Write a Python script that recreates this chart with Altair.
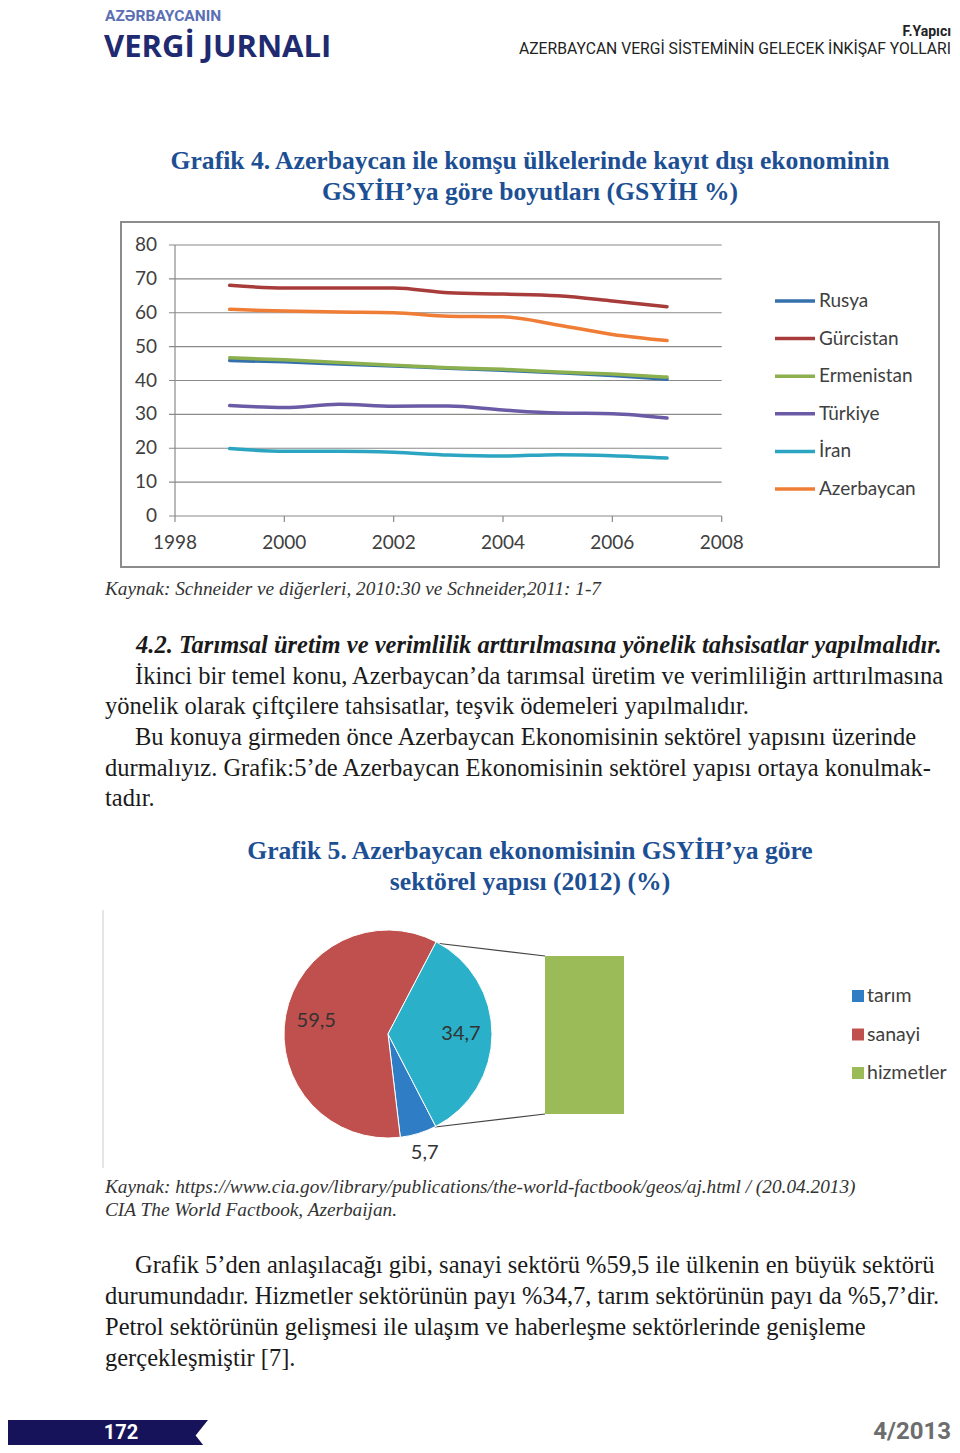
import math
import altair as alt
import pandas as pd

# ---------------- data ----------------
years = [1999, 2000, 2001, 2002, 2003, 2004, 2005, 2006, 2007]
countries = ["Rusya", "Gürcistan", "Ermenistan", "Türkiye", "İran", "Azerbaycan"]
rusya = [45.9, 45.5, 44.9, 44.3, 43.6, 43.0, 42.3, 41.5, 40.4]
gurcistan = [68.1, 67.3, 67.3, 67.3, 65.9, 65.5, 65.0, 63.5, 61.8]
ermenistan = [46.7, 46.1, 45.3, 44.5, 43.8, 43.3, 42.5, 41.9, 41.0]
turkiye = [32.6, 32.0, 33.0, 32.4, 32.5, 31.3, 30.4, 30.2, 28.9]
iran = [19.9, 19.1, 19.1, 18.8, 18.0, 17.7, 18.1, 17.8, 17.1]
azerbaycan = [61.0, 60.5, 60.2, 60.0, 59.0, 58.8, 56.4, 53.6, 51.8]
y_ticks = [0, 10, 20, 30, 40, 50, 60, 70, 80]
x_ticks = [1998, 2000, 2002, 2004, 2006, 2008]

sectors = ["tarım", "sanayi", "hizmetler"]
shares = [5.7, 59.5, 34.7]

country_colors = ["#3470AB", "#A83C3A", "#8DB04E", "#6B5BA6", "#2CA5C2", "#EF7D35"]
sector_colors = ["#2F7DC4", "#C0504D", "#9BBB59"]

series = [rusya, gurcistan, ermenistan, turkiye, iran, azerbaycan]
line_df = pd.DataFrame(
    [{"country": c, "year": y, "value": v}
     for c, vals in zip(countries, series) for y, v in zip(years, vals)]
)
pie_df = pd.DataFrame({"sektor": sectors, "pay": shares})

OX = 8  # page margin offset


def P(v):
    return v - OX


ONE = alt.Data(values=[{}])

TITLE_BLUE = "#1c4f93"
SERIF = "Liberation Serif, Times New Roman, serif"
NARROW = "Liberation Sans Narrow, Arial Narrow, Roboto, sans-serif"
CHARTF = "Lato, Carlito, Open Sans, sans-serif"
BODY = 24.5
CAP = 19.3
TITLE = 25.6


def txt(s, x, y, size, align="left", color="#1a1a1a", font=SERIF, weight="normal", style="normal"):
    return alt.Chart(ONE).mark_text(
        text=s, fontSize=size, align=align, baseline="middle", color=color,
        font=font, fontWeight=weight, fontStyle=style,
    ).encode(x=alt.value(P(x)), y=alt.value(P(y)))


layers = []

# ---------------- page header ----------------
layers += [
    txt("AZƏRBAYCANIN", 105, 16, 15.5, color="#5b6fb4", font=NARROW, weight="bold"),
    txt("VERGİ JURNALI", 104, 48, 31, color="#1f2a70", font="Open Sans, sans-serif", weight="bold"),
    txt("F.Yapıcı", 951, 32, 14, align="right", color="#222", font=NARROW, weight="bold"),
    txt("AZERBAYCAN VERGİ SİSTEMİNİN GELECEK İNKİŞAF YOLLARI", 951, 49, 15.7,
        align="right", color="#222", font=NARROW),
]

# ---------------- Grafik 4 title ----------------
layers += [
    txt("Grafik 4. Azerbaycan ile komşu ülkelerinde kayıt dışı ekonominin", 530, 161, TITLE,
        align="center", color=TITLE_BLUE, weight="bold"),
    txt("GSYİH’ya göre boyutları (GSYİH %)", 530, 192, TITLE,
        align="center", color=TITLE_BLUE, weight="bold"),
]

# ---------------- line chart ----------------
frame = alt.Chart(ONE).mark_rect(fillOpacity=0, stroke="#8c8c8c", strokeWidth=2).encode(
    x=alt.value(P(121)), x2=alt.value(P(939)), y=alt.value(P(222)), y2=alt.value(P(567))
)
layers.append(frame)

xs = alt.Scale(domain=[1998, 2008], range=[P(175), P(721.7)], nice=False, zero=False)
ys = alt.Scale(domain=[0, 80], range=[P(516), P(245)], nice=False)

grid = alt.Chart(pd.DataFrame({"v": y_ticks})).mark_rule(color="#8a8a8a", strokeWidth=1.2).encode(
    y=alt.Y("v:Q", scale=ys, axis=None), x=alt.value(P(169)), x2=alt.value(P(721.7))
)
yaxis = alt.Chart(ONE).mark_rule(color="#8a8a8a", strokeWidth=1.2).encode(
    x=alt.X(datum=1998, scale=xs, axis=None),
    y=alt.Y(datum=80, scale=ys, axis=None),
    y2=alt.Y2Datum(0),
)
xticks_m = alt.Chart(pd.DataFrame({"v": x_ticks})).mark_rule(color="#8a8a8a", strokeWidth=1.2).encode(
    x=alt.X("v:Q", scale=xs, axis=None), y=alt.value(P(516)), y2=alt.value(P(522))
)
ylabels = alt.Chart(pd.DataFrame({"v": y_ticks})).mark_text(
    align="right", baseline="middle", fontSize=19, font=CHARTF, color="#404040"
).encode(y=alt.Y("v:Q", scale=ys, axis=None), x=alt.value(P(157)), text="v:Q")
xlabels = alt.Chart(pd.DataFrame({"v": x_ticks})).mark_text(
    align="center", baseline="middle", fontSize=19, font=CHARTF, color="#404040"
).encode(x=alt.X("v:Q", scale=xs, axis=None), y=alt.value(P(543)), text="v:N")

cscale = alt.Scale(domain=countries, range=country_colors)
lines = alt.Chart(line_df).mark_line(strokeWidth=3.5, interpolate="monotone", strokeCap="round").encode(
    x=alt.X("year:Q", scale=xs, axis=None),
    y=alt.Y("value:Q", scale=ys, axis=None),
    color=alt.Color("country:N", scale=cscale, legend=None, sort=countries),
)
layers += [grid, yaxis, xticks_m, ylabels, xlabels, lines]

# legend (lines)
leg_base = alt.Chart(pd.DataFrame({"country": countries})).transform_window(i="row_number()")
leg_y = alt.Y("i:Q", scale=alt.Scale(domain=[1, 6], range=[P(301), P(489)], nice=False, zero=False), axis=None)
leg_lines = leg_base.mark_rule(strokeWidth=3.5).encode(
    x=alt.value(P(775)), x2=alt.value(P(815)), y=leg_y,
    color=alt.Color("country:N", scale=cscale, legend=None),
)
leg_text = leg_base.mark_text(align="left", baseline="middle", fontSize=19, font=CHARTF, color="#404040").encode(
    x=alt.value(P(819)), y=leg_y, text="country:N"
)
layers += [leg_lines, leg_text]

# ---------------- source + text ----------------
layers += [
    txt("Kaynak: Schneider ve diğerleri, 2010:30 ve Schneider,2011: 1-7", 105, 589, CAP, color="#333", style="italic"),
    txt("4.2. Tarımsal üretim ve verimlilik arttırılmasına yönelik tahsisatlar yapılmalıdır.", 136, 646, 24.5,
        weight="bold", style="italic"),
    txt("İkinci bir temel konu, Azerbaycan’da tarımsal üretim ve verimliliğin arttırılmasına", 135, 677, BODY),
    txt("yönelik olarak çiftçilere tahsisatlar, teşvik ödemeleri yapılmalıdır.", 105, 707, BODY),
    txt("Bu konuya girmeden önce Azerbaycan Ekonomisinin sektörel yapısını üzerinde", 135, 738, BODY),
    txt("durmalıyız. Grafik:5’de Azerbaycan Ekonomisinin sektörel yapısı ortaya konulmak-", 105, 769, BODY),
    txt("tadır.", 105, 799, BODY),
    txt("Grafik 5. Azerbaycan ekonomisinin GSYİH’ya göre", 530, 851, TITLE,
        align="center", color=TITLE_BLUE, weight="bold"),
    txt("sektörel yapısı (2012) (%)", 530, 882, TITLE, align="center", color=TITLE_BLUE, weight="bold"),
]

# ---------------- pie chart ----------------
box_l = alt.Chart(ONE).mark_rule(color="#dddddd", strokeWidth=1.5).encode(
    x=alt.value(P(103)), y=alt.value(P(910)), y2=alt.value(P(1168))
)
layers.append(box_l)

start = 0.482
total = sum(shares)
tscale = alt.Scale(domain=[0, total], range=[start, start + 2 * math.pi], nice=False, zero=False)
pie_base = alt.Chart(pie_df).transform_calculate(
    ord="indexof(['hizmetler','tarım','sanayi'], datum.sektor)",
    label="replace(format(datum.pay, '.1f'), '.', ',')",
    r="datum.pay < 10 ? 125 : 73",
)
sscale = alt.Scale(domain=sectors, range=sector_colors)
arcs = pie_base.mark_arc(radius=104, stroke="white", strokeWidth=1).encode(
    theta=alt.Theta("pay:Q", stack=True, scale=tscale),
    order=alt.Order("ord:Q"),
    color=alt.condition("datum.sektor == 'hizmetler'", alt.value("#2AB0C9"),
                        alt.Color("sektor:N", scale=sscale, legend=None)),
    x=alt.value(P(388)), y=alt.value(P(1034)),
)
pie_labels = pie_base.transform_window(
    cum="sum(pay)", sort=[alt.SortField("ord")], frame=[None, 0]
).transform_calculate(
    mid="datum.cum - datum.pay / 2"
).mark_text(fontSize=20, font=CHARTF, color="#333", baseline="middle", align="center").encode(
    theta=alt.Theta("mid:Q", stack=None, scale=tscale),
    radius=alt.Radius("r:Q", scale=None),
    text="label:N",
    x=alt.value(P(388)), y=alt.value(P(1034)),
)
bar = alt.Chart(pie_df).transform_filter("datum.sektor == 'hizmetler'").mark_rect(color="#9BBB59").encode(
    x=alt.value(P(545)), x2=alt.value(P(624)),
    y=alt.Y("pay:Q", scale=alt.Scale(domain=[0, shares[2]], range=[P(1114), P(956)], nice=False), axis=None),
    y2=alt.Y2Datum(0),
)
conn1 = alt.Chart(ONE).mark_rule(color="#444", strokeWidth=1.2).encode(
    x=alt.value(P(435)), y=alt.value(P(943)), x2=alt.value(P(545)), y2=alt.value(P(956))
)
conn2 = alt.Chart(ONE).mark_rule(color="#444", strokeWidth=1.2).encode(
    x=alt.value(P(435)), y=alt.value(P(1127)), x2=alt.value(P(545)), y2=alt.value(P(1114))
)
layers += [conn1, conn2, arcs, pie_labels, bar]

leg2_base = alt.Chart(pd.DataFrame({"sektor": sectors})).transform_window(i="row_number()")
leg2_y = alt.Y("i:Q", scale=alt.Scale(domain=[1, 3], range=[P(996), P(1073)], nice=False, zero=False), axis=None)
leg2_sq = leg2_base.mark_square(size=144, opacity=1).encode(
    x=alt.value(P(858)), y=leg2_y, color=alt.Color("sektor:N", scale=sscale, legend=None)
)
leg2_text = leg2_base.mark_text(align="left", baseline="middle", fontSize=19.5, font=CHARTF, color="#404040").encode(
    x=alt.value(P(867)), y=leg2_y, text="sektor:N"
)
layers += [leg2_sq, leg2_text]

# ---------------- closing text ----------------
layers += [
    txt("Kaynak: https://www.cia.gov/library/publications/the-world-factbook/geos/aj.html / (20.04.2013)",
        105, 1187, CAP, color="#333", style="italic"),
    txt("CIA The World Factbook,  Azerbaijan.", 105, 1210, CAP, color="#333", style="italic"),
    txt("Grafik 5’den anlaşılacağı gibi, sanayi sektörü %59,5 ile ülkenin en büyük sektörü", 135, 1266, BODY),
    txt("durumundadır. Hizmetler sektörünün payı %34,7, tarım sektörünün payı da %5,7’dir.", 105, 1297, BODY),
    txt("Petrol sektörünün gelişmesi ile ulaşım ve haberleşme sektörlerinde genişleme", 105, 1328, BODY),
    txt("gerçekleşmiştir [7].", 105, 1359, BODY),
]

# ---------------- footer ----------------
banner = alt.Chart(ONE).mark_rect(color="#17135a").encode(
    x=alt.value(0), x2=alt.value(P(208)), y=alt.value(P(1420)), y2=alt.value(P(1451))
)
notch = alt.Chart(ONE).mark_point(
    shape="M 0 -1 L -0.8 0 L 0 1 L 1 1 L 1 -1 Z", filled=True, color="white", opacity=1, size=961
).encode(x=alt.value(P(208)), y=alt.value(P(1435.5)))
layers += [
    banner, notch,
    txt("172", 121, 1433, 20, align="center", color="white", font=NARROW, weight="bold"),
    txt("4/2013", 951, 1432, 24, align="right", color="#6d6d6d", font=NARROW, weight="bold"),
]

chart = alt.layer(*layers).resolve_scale(
    x="independent", y="independent", color="independent", theta="independent", radius="independent"
).properties(
    width=944, height=1437, padding=0, autosize="none", background="white"
).configure_view(stroke=None)

chart.save("out.html", embed_options={"renderer": "svg", "actions": False})
